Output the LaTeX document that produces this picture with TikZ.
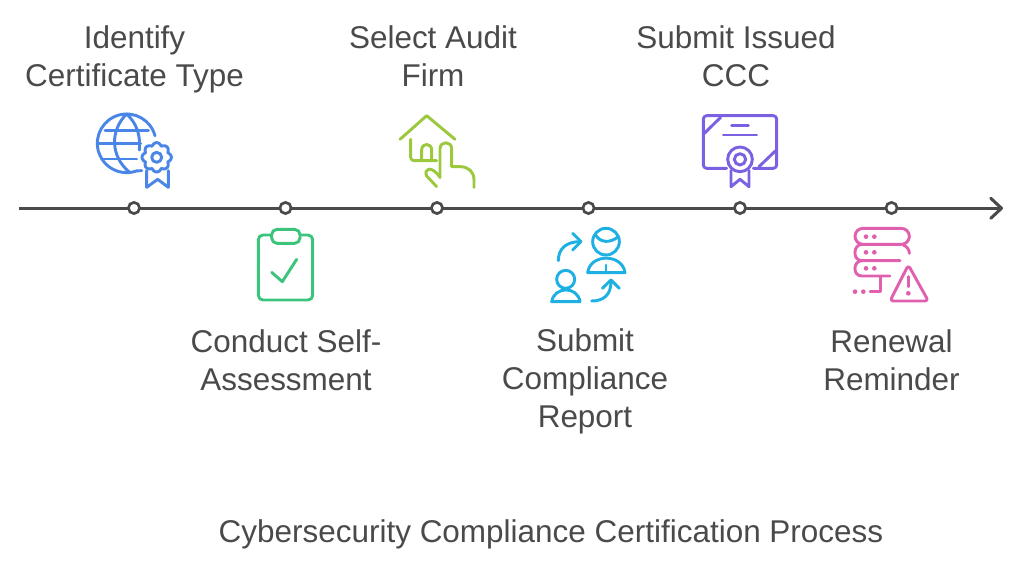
\documentclass[tikz,border=0pt]{standalone}
\usepackage{xcolor}
\usepackage{fontspec}
\setmainfont{Liberation Sans}
\usetikzlibrary{arrows.meta}
\definecolor{inkgray}{RGB}{74,74,74}
\definecolor{globeblue}{RGB}{74,134,232}
\definecolor{housegreen}{RGB}{155,200,60}
\definecolor{certpurple}{RGB}{123,97,225}
\definecolor{clipgreen}{RGB}{60,196,124}
\definecolor{peoplecyan}{RGB}{30,176,226}
\definecolor{serverpink}{RGB}{224,95,175}

\begin{document}
\begin{tikzpicture}[x=0.75pt, y=-0.75pt,
  steptext/.style={text=inkgray, align=center, font=\fontsize{23.6}{28.5}\selectfont},
  stepdot/.style={circle, draw=inkgray, line width=2pt, fill=white, minimum size=8.4pt, inner sep=0pt},
  axisline/.style={draw=inkgray, line width=2.3pt, -{Straight Barb[length=8pt, width=15pt, round]}},
  icon/.style={x=0.25pt, y=-0.25pt, line width=2.2pt, line cap=round, line join=round}]
  \useasboundingbox (0,0) rectangle (1024,570);

  \coordinate (axisstart) at (19,208.3);
  \coordinate (axisend) at (1003,208.3);
  \draw[axisline] (axisstart) -- (axisend);

  \node[stepdot] (dotidentify) at (134,208) {};
  \node[stepdot] (dotconduct)  at (285.5,208) {};
  \node[stepdot] (dotselect)   at (437,208) {};
  \node[stepdot] (dotreport)   at (588.5,208) {};
  \node[stepdot] (dotissued)   at (740,208) {};
  \node[stepdot] (dotrenewal)  at (891.5,208) {};

  \node[steptext] (identify) at (134.5,59) {Identify\\Certificate Type};
  \node[steptext] (selectfirm) at (433,56) {Select Audit\\Firm};
  \node[steptext] (issued) at (736,56) {Submit Issued\\CCC};
  \node[steptext] (conduct) at (286,360) {Conduct Self-\\Assessment};
  \node[steptext] (report) at (585,381) {Submit\\Compliance\\Report};
  \node[steptext] (renewal) at (891.5,360) {Renewal\\Reminder};
  \node[steptext] (title) at (551,534) {Cybersecurity Compliance Certification Process};

  % globe with rosette
  \begin{scope}[shift={(80,100)}, icon, draw=globeblue]
    \draw (140,130) ++(-15:88) arc[start angle=-15, delta angle=-275, radius=88] -- (185,212);
    \draw (75,92) -- (205,92) (55,130) -- (182,130) (70,177) -- (170,177);
    \draw (140,42) .. controls (90,90) and (90,170) .. (150,218);
    \draw (140,42) .. controls (170,70) and (182,105) .. (178,150);
    \draw plot[domain=0:360, samples=121, smooth] ({230+(36+8*abs(cos(4*\x)))*cos(\x)}, {172+(36+8*abs(cos(4*\x)))*sin(\x)}) -- cycle;
    \draw (230,172) circle[radius=15];
    \draw (200,212) -- (200,262) -- (233,238) -- (265,262) -- (265,212);
  \end{scope}

  % house and hand
  \begin{scope}[shift={(385,100)}, icon, draw=housegreen]
    \draw (45,118) -- (125,47) -- (210,118);
    \draw[rounded corners=2.5pt] (77,118) -- (77,182) -- (155,182);
    \draw (110,182) -- (110,150) .. controls (110,128) and (140,128) .. (140,150) -- (140,182);
    \draw (165,232) -- (165,147) .. controls (165,122) and (200,122) .. (200,147) -- (200,200) -- (225,200)
      .. controls (250,200) and (267,215) .. (267,240) -- (267,262);
    \draw (155,260) -- (125,228) .. controls (115,205) and (140,195) .. (165,232);
  \end{scope}

  % certificate
  \begin{scope}[shift={(685,100)}, icon, draw=certpurple]
    \draw[rounded corners=2.5pt] (125,205) -- (55,205) -- (55,47) -- (275,47) -- (275,205) -- (205,205);
    \draw (58,100) -- (107,52) (222,200) -- (272,152);
    \draw (140,77) -- (190,77) (115,105) -- (215,105);
    \draw (165,178) circle[radius=37] (165,178) circle[radius=17];
    \draw (138,212) -- (138,260) -- (165,238) -- (192,260) -- (192,212);
  \end{scope}

  % clipboard
  \begin{scope}[shift={(240,200)}, icon, draw=clipgreen]
    \draw[rounded corners=3.5pt] (95,105) -- (55,105) -- (55,300) -- (218,300) -- (218,105) -- (180,105);
    \draw[rounded corners=4pt] (95,88) rectangle (180,130);
    \draw (95,217) -- (127,245) -- (170,178);
  \end{scope}

  % people swapping
  \begin{scope}[shift={(535,200)}, icon, draw=peoplecyan]
    \draw (213,125) circle[radius=40];
    \draw (180,102) .. controls (195,130) and (225,130) .. (250,110);
    \draw (158,218) .. controls (165,160) and (262,160) .. (270,218) -- cycle;
    \draw (213,195) -- (213,218);
    \draw (92,238) circle[radius=27];
    \draw (50,305) .. controls (58,258) and (128,258) .. (135,305) -- cycle;
    \draw (70,182) .. controls (70,145) and (95,125) .. (135,125);
    \draw (113,100) -- (138,125) -- (113,150);
    \draw (170,303) .. controls (205,303) and (228,285) .. (228,245);
    \draw (202,265) -- (228,240) -- (253,265);
  \end{scope}

  % servers and warning
  \begin{scope}[shift={(840,195)}, icon, draw=serverpink]
    \draw[rounded corners=6pt] (45,100) rectangle (208,148);
    \draw (65,148) .. controls (38,150) and (38,197) .. (65,197) -- (180,197);
    \draw (65,197) .. controls (38,199) and (38,243) .. (65,243) -- (150,243);
    \draw (190,150) .. controls (202,155) and (208,165) .. (208,175);
    \draw (122,245) -- (122,290) -- (90,290);
    \foreach \rowy in {125,172,220} {
      \fill[serverpink] (78,\rowy) circle[radius=7] (103,\rowy) circle[radius=7];
    }
    \fill[serverpink] (45,290) circle[radius=7] (70,290) circle[radius=7];
    \draw[rounded corners=2.5pt] (205,210) -- (150,318) -- (265,318) -- cycle;
    \draw (205,245) -- (205,275);
    \fill[serverpink] (205,295) circle[radius=7];
  \end{scope}
\end{tikzpicture}
\end{document}
